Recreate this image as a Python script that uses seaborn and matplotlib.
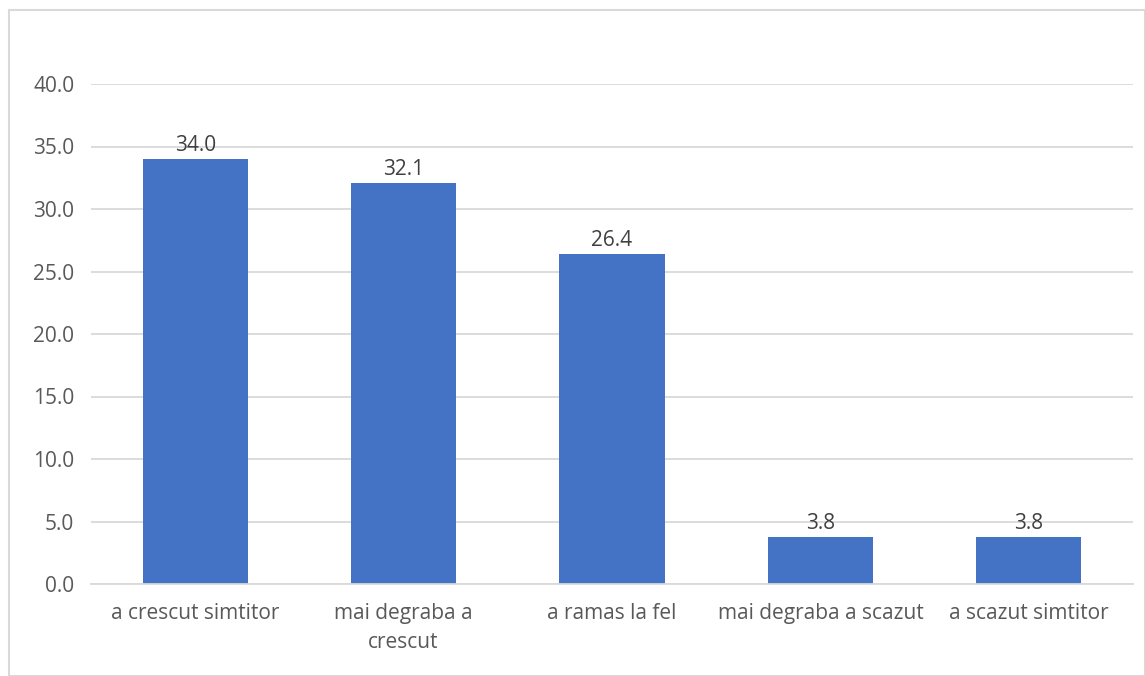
import matplotlib
matplotlib.use("Agg")
import matplotlib.pyplot as plt
import seaborn as sns
import pandas as pd

categories = ["a crescut simtitor", "mai degraba a\ncrescut", "a ramas la fel",
              "mai degraba a scazut", "a scazut simtitor"]
values = [34.0, 32.1, 26.4, 3.8, 3.8]
yticks = [0, 5, 10, 15, 20, 25, 30, 35, 40]

sns.set_theme(style="white")
plt.rcParams['font.family'] = ['Open Sans', 'DejaVu Sans']

text_color = '#595959'
grid_color = '#D9D9D9'
bar_color = '#4472C4'

df = pd.DataFrame({'cat': categories, 'val': values})

fig = plt.figure(figsize=(11.45, 6.76), dpi=100)
ax = fig.add_axes([91/1145, 1-584/676, (1133-91)/1145, (584-84)/676])

sns.barplot(data=df, x='cat', y='val', color=bar_color, width=0.505,
            saturation=1, linewidth=0, ax=ax, zorder=2)

ax.set_ylim(0, 40)
ax.set_yticks(yticks)
ax.set_yticklabels([f"{t:.1f}" for t in yticks])
ax.yaxis.grid(True, color=grid_color, linewidth=1.3, zorder=0)
ax.set_axisbelow(True)
ax.set_xlabel("")
ax.set_ylabel("")

for s in ['top', 'right', 'left']:
    ax.spines[s].set_visible(False)
ax.spines['bottom'].set_color(grid_color)
ax.spines['bottom'].set_linewidth(1.3)

ax.tick_params(axis='both', length=0, labelsize=15, colors=text_color)
ax.tick_params(axis='x', pad=14)
ax.tick_params(axis='y', pad=12)
for lbl in ax.get_xticklabels():
    lbl.set_linespacing(1.45)

for i, v in enumerate(values):
    ax.text(i, v + 0.2, f"{v:.1f}", ha='center', va='bottom',
            fontsize=15, color='#404040')

# chart frame
frame = plt.Rectangle((9/1145, 0), 1 - 9/1145, 1 - 10/676, transform=fig.transFigure,
                      fill=False, edgecolor=grid_color, linewidth=1.5)
fig.patches.append(frame)

fig.savefig("out.png", dpi=100)
